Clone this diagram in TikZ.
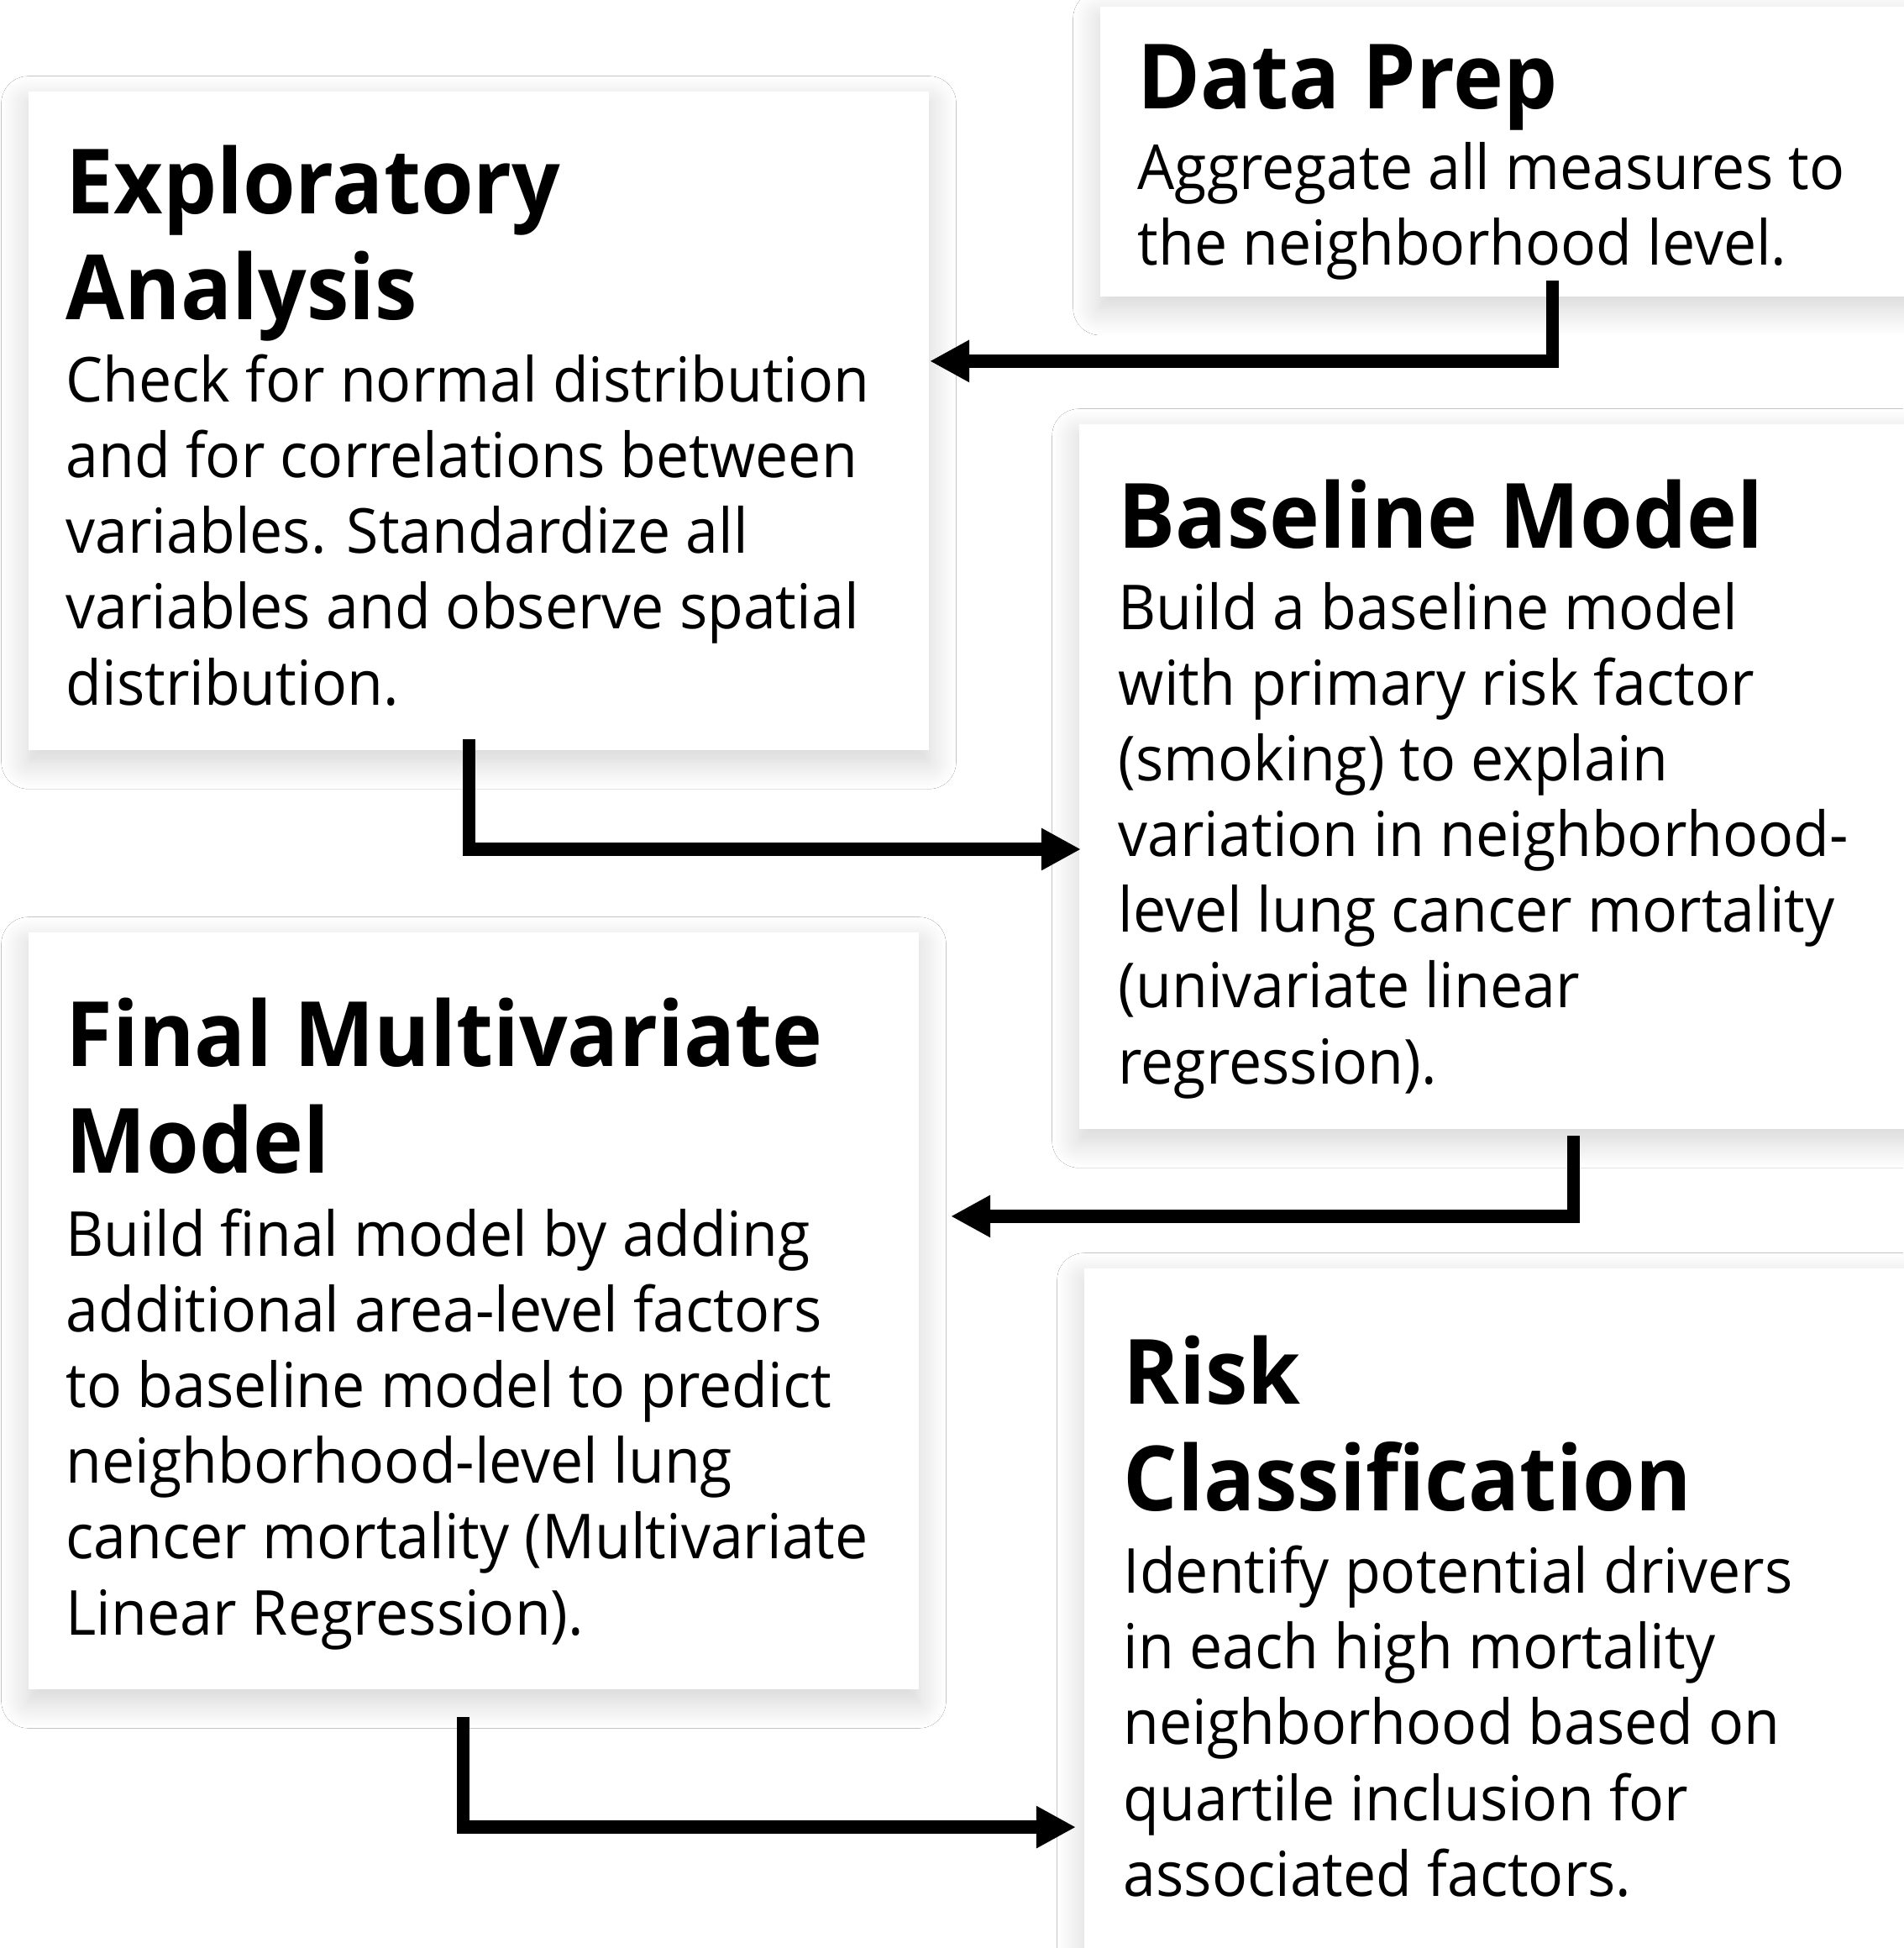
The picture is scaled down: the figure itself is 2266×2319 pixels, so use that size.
\documentclass[tikz,border=0pt]{standalone}
\usepackage{fontspec}
\setmainfont{Open Sans}[FakeStretch=0.945]
\usetikzlibrary{arrows.meta,shadows.blur}

\begin{document}
\begin{tikzpicture}[x=0.01cm, y=-0.01cm,
  card/.style={fill=white, anchor=north west, inner sep=0pt,
    blur shadow={shadow xshift=0pt, shadow yshift=-1.4mm, shadow blur radius=3.2mm, shadow blur steps=16, shadow opacity=18}},
  head/.style={anchor=base west, inner sep=0pt, align=left, font=\bfseries\fontsize{30.5}{36.1}\selectfont},
  body/.style={anchor=base west, inner sep=0pt, align=left, font=\fontsize{21}{25.6}\selectfont},
  flow/.style={line width=1.55mm, -{Triangle[length=4.7mm, width=4.7mm]}}]
\path[use as bounding box, fill=white] (0,0) rectangle (2266,2319);
% boxes
\node[card, minimum width=9.91cm, minimum height=3.45cm] (prep) at (1309,7) {};
\node[card, minimum width=10.72cm, minimum height=7.84cm] (explore) at (33,108) {};
\node[card, minimum width=10.16cm, minimum height=8.39cm] (base) at (1284,504) {};
\node[card, minimum width=10.60cm, minimum height=9.01cm] (final) at (33,1109) {};
\node[card, minimum width=10.10cm, minimum height=8.51cm] (risk) at (1290,1509) {};
% texts (placed by the baseline of their last line)
\node[head] (prep-h) at (1354,130) {Data Prep};
\node[body] (prep-t) at (1354,316) {Aggregate all measures to\\the neighborhood level.};
\node[head] (explore-h) at (78,381) {Exploratory\\Analysis};
\node[body] (explore-t) at (78,839) {Check for normal distribution\\and for correlations between\\variables. Standardize all\\variables and observe spatial\\distribution.};
\node[head] (base-h) at (1331,653) {Baseline Model};
\node[body] (base-t) at (1331,1290) {Build a baseline model\\with primary risk factor\\(smoking) to explain\\variation in neighborhood-\\level lung cancer mortality\\(univariate linear\\regression).};
\node[head] (final-h) at (78,1396) {Final Multivariate\\Model};
\node[body] (final-t) at (78,1946) {Build final model by adding\\additional area-level factors\\to baseline model to predict\\neighborhood-level lung\\cancer mortality (Multivariate\\Linear Regression).};
\node[head] (risk-h) at (1337,1798) {Risk\\Classification};
\node[body] (risk-t) at (1337,2257) {Identify potential drivers\\in each high mortality\\neighborhood based on\\quartile inclusion for\\associated factors.};
% arrows
\draw[flow] ([xshift=5.39cm,yshift=2mm]prep.south west) |- ([yshift=7.1mm]explore.east);
\draw[flow] ([xshift=5.25cm,yshift=1.4mm]explore.south west) |- ([xshift=0.3mm,yshift=-8.65mm]base.west);
\draw[flow] ([xshift=5.89cm,yshift=-0.7mm]base.south west) |- ([xshift=3.7mm,yshift=11.25mm]final.east);
\draw[flow] ([xshift=5.18cm,yshift=-3.2mm]final.south west) |- ([xshift=-0.9mm,yshift=-23.95mm]risk.west);
\end{tikzpicture}
\end{document}
